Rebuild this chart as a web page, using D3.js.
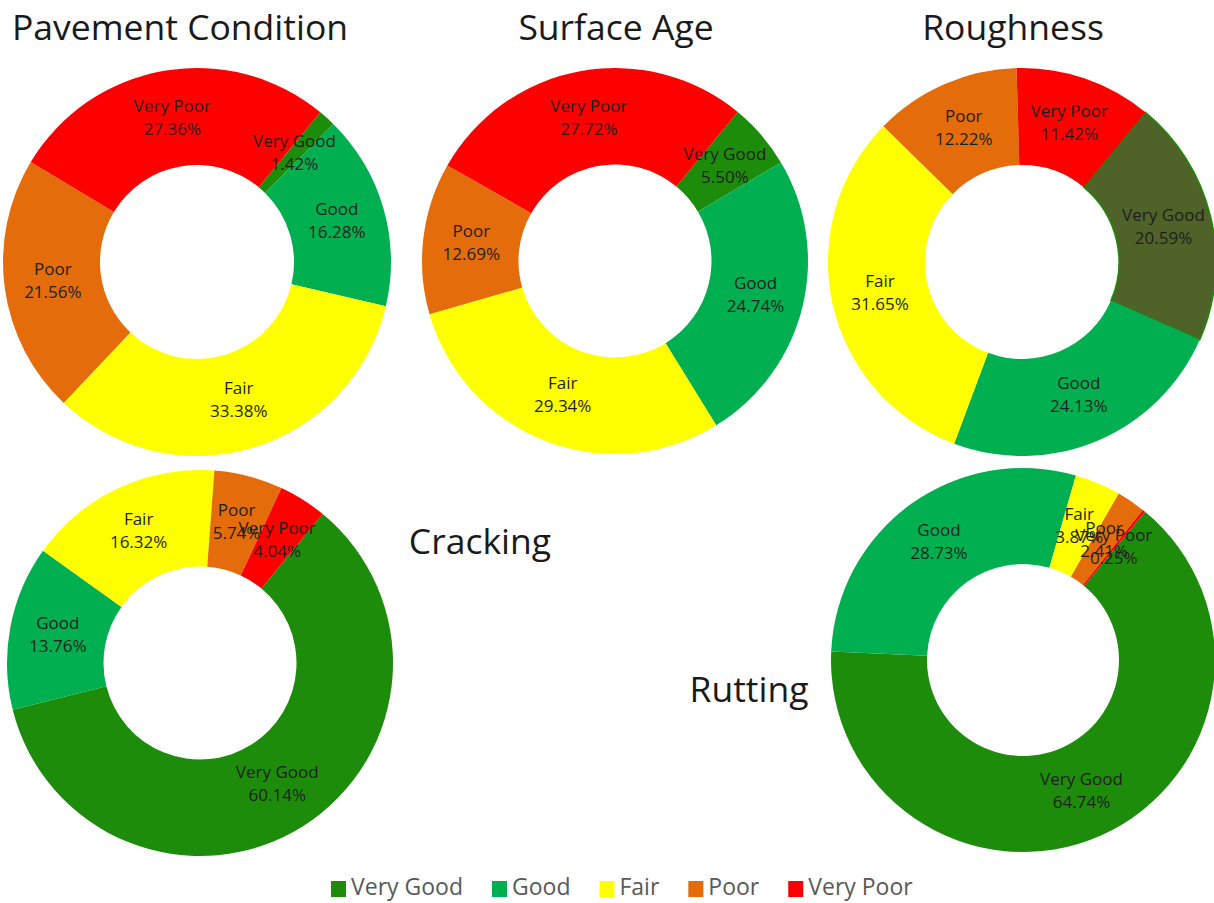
<!DOCTYPE html>
<html>
<head>
<meta charset="utf-8">
<script src="https://cdn.jsdelivr.net/npm/d3@7"></script>
<style>
    body { margin: 0; background: #fff; }
    svg { font-family: "Open Sans", "Noto Sans", sans-serif; }
</style>
</head>
<body>
<div id="chart"></div>
<script>
const categories = ["Very Good", "Good", "Fair", "Poor", "Very Poor"];
const chartTitles = ["Pavement Condition", "Surface Age", "Roughness", "Cracking", "Rutting"];
const pavementCondition = [1.42, 16.28, 33.38, 21.56, 27.36];
const surfaceAge = [5.50, 24.74, 29.34, 12.69, 27.72];
const roughness = [20.59, 24.13, 31.65, 12.22, 11.42];
const cracking = [60.14, 13.76, 16.32, 5.74, 4.04];
const rutting = [64.74, 28.73, 3.87, 2.41, 0.25];

(function () {
    var width = 1214;
    var height = 903;

    var colors = d3.scaleOrdinal()
        .domain(categories)
        .range(["#1e8c0b", "#00b050", "#ffff00", "#e46c0a", "#ff0000"]);

    // panel layout: donut centre, radius, title placement
    var panels = [
        { values: pavementCondition, cx: 197, cy: 262, r: 194, tx: 180, ty: 40 },
        { values: surfaceAge, cx: 615, cy: 261, r: 193, tx: 616, ty: 40 },
        { values: roughness, cx: 1022, cy: 262, r: 194, tx: 1013, ty: 40, vgFill: "#4f6228" },
        { values: cracking, cx: 200, cy: 663, r: 193, tx: 480, ty: 554 },
        { values: rutting, cx: 1023, cy: 660, r: 192, tx: 749, ty: 702 }
    ];

    var startAngle = 39.5 * Math.PI / 180;

    var svg = d3.select("#chart")
        .append("svg")
        .attr("width", width)
        .attr("height", height);

    var pie = d3.pie()
        .sort(null)
        .value(d => d.value)
        .startAngle(startAngle)
        .endAngle(startAngle + 2 * Math.PI);

    panels.forEach((p, i) => {
        var data = categories.map((c, j) => ({ category: c, value: p.values[j] }));
        var arc = d3.arc()
            .innerRadius(p.r * 0.5)
            .outerRadius(p.r);
        var labelArc = d3.arc()
            .innerRadius(p.r * 0.75)
            .outerRadius(p.r * 0.75);

        var g = svg.append("g")
            .attr("transform", `translate(${p.cx},${p.cy})`);

        g.selectAll("path")
            .data(pie(data))
            .enter()
            .append("path")
            .attr("d", arc)
            .attr("fill", d => (d.data.category == "Very Good" && p.vgFill) ? p.vgFill : colors(d.data.category))
            .attr("stroke", d => (d.data.category == "Very Good" && p.vgFill) ? "#1e8c0b" : "none")
            .attr("stroke-width", 1.5);

        var labels = g.selectAll("text.sliceLabel")
            .data(pie(data))
            .enter()
            .append("text")
            .attr("class", "sliceLabel")
            .attr("transform", d => `translate(${labelArc.centroid(d)})`)
            .style("text-anchor", "middle")
            .style("font-size", "17px")
            .attr("fill", "#1f1f1f");

        labels.append("tspan")
            .attr("x", 0)
            .attr("y", -11.5)
            .attr("dominant-baseline", "middle")
            .text(d => d.data.category);

        labels.append("tspan")
            .attr("x", 0)
            .attr("y", 11.5)
            .attr("dominant-baseline", "middle")
            .text(d => d3.format(".2f")(d.data.value) + "%");

        svg.append("text")
            .attr("class", "chartTitle")
            .text(chartTitles[i])
            .attr("x", p.tx)
            .attr("y", p.ty)
            .style("text-anchor", "middle")
            .style("font-size", "35.5px")
            .attr("fill", "#1a1a1a");
    });

    // legend
    var legend = svg.append("g")
        .attr("transform", "translate(331, 889)");
    var lx = 0;
    categories.forEach(c => {
        var item = legend.append("g")
            .attr("transform", `translate(${lx},0)`);
        item.append("rect")
            .attr("x", 0)
            .attr("y", -8)
            .attr("width", 15)
            .attr("height", 16)
            .attr("fill", colors(c));
        var t = item.append("text")
            .text(c)
            .attr("x", 20)
            .attr("y", 0)
            .attr("dominant-baseline", "middle")
            .style("font-size", "23px")
            .attr("fill", "#595959");
        lx += 20 + t.node().getComputedTextLength() + 29;
    });
})();
</script>
</body>
</html>
